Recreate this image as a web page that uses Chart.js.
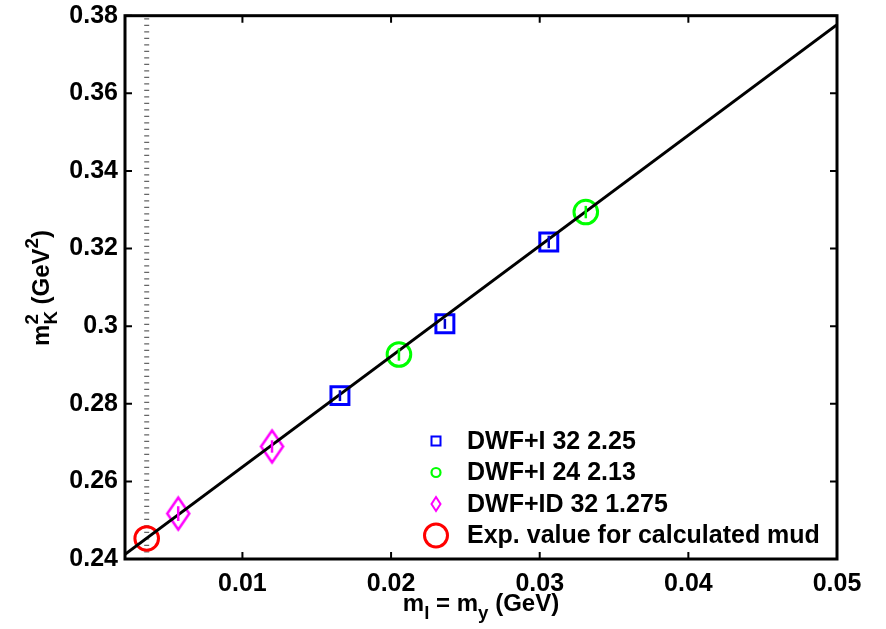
<!DOCTYPE html>
<html><head><meta charset="utf-8">
<script src="https://cdn.jsdelivr.net/npm/chart.js@4/dist/chart.umd.min.js"></script>
<style>html,body{margin:0;padding:0;background:#fff}#wrap{width:886px;height:629px;position:relative}</style>
</head><body><div id="wrap"><canvas id="c" width="886" height="629"></canvas></div>
<script>
// ---- data ----
const xTicks = [0.01, 0.02, 0.03, 0.04, 0.05];
const yTicks = [0.24, 0.26, 0.28, 0.30, 0.32, 0.34, 0.36, 0.38];
const xRange = [0.0021, 0.05];
const seriesLabels = ['DWF+I 32 2.25', 'DWF+I 24 2.13', 'DWF+ID 32 1.275', 'Exp. value for calculated mud'];
const blueX = [0.01656, 0.02362, 0.03061];
const blueY = [0.2821, 0.3006, 0.3217];
const blueErr = [0.0014, 0.0013, 0.0016];
const greenX = [0.02053, 0.03310];
const greenY = [0.2927, 0.3294];
const greenErr = [0.0016, 0.0016];
const magX = [0.00568, 0.01199];
const magY = [0.2517, 0.2690];
const magErr = [0.0019, 0.0016];
const expX = [0.00356];
const expY = [0.2453];
const fitX = [0.0021, 0.05];
const fitY = [0.2412, 0.3777];

const FONT = "'Liberation Sans', Arial, Helvetica, sans-serif";
Chart.defaults.font.family = FONT;
Chart.defaults.color = '#000';

function pts(xs, ys) { return xs.map((x, i) => ({x: x, y: ys[i]})); }

function makeDiamond(hw, hh, lw, color) {
  const c = document.createElement('canvas');
  const W = Math.ceil(2 * hw + lw + 2), H = Math.ceil(2 * hh + lw + 2);
  c.width = W; c.height = H;
  const g = c.getContext('2d');
  g.strokeStyle = color; g.lineWidth = lw; g.lineJoin = 'miter';
  g.beginPath();
  g.moveTo(W / 2, H / 2 - hh); g.lineTo(W / 2 + hw, H / 2);
  g.lineTo(W / 2, H / 2 + hh); g.lineTo(W / 2 - hw, H / 2);
  g.closePath(); g.stroke();
  return c;
}
const diamondImg = makeDiamond(11, 16, 2.5, '#ff00ff');

const errorBars = {
  id: 'errorBars',
  afterDatasetsDraw(chart) {
    const ctx = chart.ctx, xs = chart.scales.x, ys = chart.scales.y;
    chart.data.datasets.forEach(ds => {
      if (!ds.errors) return;
      ctx.save();
      ctx.strokeStyle = ds.errColor || ds.borderColor;
      ctx.lineWidth = 2.5;
      ds.data.forEach((p, i) => {
        const px = xs.getPixelForValue(p.x);
        ctx.beginPath();
        ctx.moveTo(px, ys.getPixelForValue(p.y - ds.errors[i]));
        ctx.lineTo(px, ys.getPixelForValue(p.y + ds.errors[i]));
        ctx.stroke();
      });
      ctx.restore();
    });
  }
};

const frame = {
  id: 'frame',
  afterDraw(chart) {
    const ctx = chart.ctx, a = chart.chartArea, xs = chart.scales.x, ys = chart.scales.y;
    ctx.save();
    ctx.strokeStyle = '#000';
    ctx.lineWidth = 2;
    const TL = 7;
    xTicks.forEach(v => {
      const px = xs.getPixelForValue(v);
      ctx.beginPath();
      ctx.moveTo(px, a.bottom); ctx.lineTo(px, a.bottom - TL);
      ctx.moveTo(px, a.top); ctx.lineTo(px, a.top + TL);
      ctx.stroke();
    });
    yTicks.forEach(v => {
      const py = ys.getPixelForValue(v);
      ctx.beginPath();
      ctx.moveTo(a.left, py); ctx.lineTo(a.left + TL, py);
      ctx.moveTo(a.right, py); ctx.lineTo(a.right - TL, py);
      ctx.stroke();
    });
    ctx.lineWidth = 3;
    ctx.strokeRect(a.left, a.top, a.right - a.left, a.bottom - a.top);
    ctx.restore();
  }
};

function drawRich(ctx, parts, size) {
  let w = 0;
  parts.forEach(p => {
    const s = p.small ? size * 0.78 : size;
    ctx.font = 'bold ' + s + 'px ' + FONT;
    p.w = ctx.measureText(p.t).width;
  });
  let i = 0; const segs = [];
  while (i < parts.length) {
    const p = parts[i];
    if (p.stack) { const q = parts[i + 1]; segs.push({a: p, b: q, w: Math.max(p.w, q.w)}); i += 2; }
    else { segs.push({a: p, w: p.w}); i++; }
  }
  segs.forEach(s => w += s.w);
  return {segs: segs, w: w};
}
function renderRich(ctx, rich, x0, y0, size) {
  let x = x0;
  const put = (p) => {
    const s = p.small ? size * 0.78 : size;
    ctx.font = 'bold ' + s + 'px ' + FONT;
    let dy = 0;
    if (p.sub) dy = size * 0.33;
    if (p.sup) dy = -size * 0.45;
    ctx.fillText(p.t, x, y0 + dy);
  };
  rich.segs.forEach(s => { put(s.a); if (s.b) put(s.b); x += s.w; });
}

const titles = {
  id: 'titles',
  afterDraw(chart) {
    const ctx = chart.ctx, a = chart.chartArea;
    ctx.save();
    ctx.fillStyle = '#000';
    ctx.textBaseline = 'alphabetic';
    ctx.textAlign = 'left';
    const size = 24;
    const xr = drawRich(ctx, [
      {t: 'm'}, {t: 'l', sub: true, small: true}, {t: ' = m'}, {t: 'y', sub: true, small: true}, {t: ' (GeV)'}
    ], size);
    renderRich(ctx, xr, (a.left + a.right) / 2 - xr.w / 2, 611, size);
    const yr = drawRich(ctx, [
      {t: 'm'}, {t: '2', sup: true, small: true, stack: true}, {t: 'K', sub: true, small: true}, {t: ' (GeV'}, {t: '2', sup: true, small: true}, {t: ')'}
    ], size);
    ctx.translate(49, 288);
    ctx.rotate(-Math.PI / 2);
    renderRich(ctx, yr, -yr.w / 2, 0, size);
    ctx.restore();
  }
};

const legendBox = {
  id: 'legendBox',
  afterDraw(chart) {
    const ctx = chart.ctx;
    const rows = [441, 472.5, 504, 535.5];
    const mx = 436, tx = 467;
    ctx.save();
    ctx.lineWidth = 2; ctx.strokeStyle = '#0000ff';
    ctx.strokeRect(mx - 4.5, rows[0] - 4.5, 9, 9);
    ctx.strokeStyle = '#00ff00'; ctx.lineWidth = 2.2;
    ctx.beginPath(); ctx.arc(mx, rows[1], 4.5, 0, Math.PI * 2); ctx.stroke();
    ctx.strokeStyle = '#ff00ff'; ctx.lineWidth = 2;
    ctx.beginPath(); ctx.moveTo(mx, rows[2] - 7); ctx.lineTo(mx + 4.5, rows[2]); ctx.lineTo(mx, rows[2] + 7); ctx.lineTo(mx - 4.5, rows[2]); ctx.closePath(); ctx.stroke();
    ctx.strokeStyle = '#ff0000'; ctx.lineWidth = 3;
    ctx.beginPath(); ctx.arc(mx, rows[3], 11.5, 0, Math.PI * 2); ctx.stroke();
    ctx.fillStyle = '#000';
    ctx.font = 'bold 25px ' + FONT;
    ctx.textBaseline = 'middle'; ctx.textAlign = 'left';
    seriesLabels.forEach((l, i) => ctx.fillText(l, tx, rows[i] + 1));
    ctx.restore();
  }
};

const tickFont = {family: FONT, weight: 'bold', size: 25, lineHeight: 1};

new Chart(document.getElementById('c'), {
  type: 'scatter',
  data: {
    datasets: [
      {label: 'fit', data: pts(fitX, fitY), showLine: true, borderColor: '#000', borderWidth: 3, pointRadius: 0, order: 0},
      {label: seriesLabels[0], data: pts(blueX, blueY), errors: blueErr, errColor: '#0000cc', pointStyle: 'rect', pointRadius: 12.7, borderColor: '#0000ff', backgroundColor: 'rgba(0,0,0,0)', borderWidth: 3, order: 1},
      {label: seriesLabels[1], data: pts(greenX, greenY), errors: greenErr, pointStyle: 'circle', pointRadius: 11.8, borderColor: '#00ff00', backgroundColor: 'rgba(0,0,0,0)', borderWidth: 3, order: 1},
      {label: seriesLabels[2], data: pts(magX, magY), errors: magErr, pointStyle: diamondImg, pointRadius: 12, borderColor: '#ff00ff', backgroundColor: 'rgba(0,0,0,0)', order: 1},
      {label: seriesLabels[3], data: pts(expX, expY), pointStyle: 'circle', pointRadius: 11.8, borderColor: '#ff0000', backgroundColor: 'rgba(0,0,0,0)', borderWidth: 3, order: 1},
      {label: 'mud', data: [{x: expX[0], y: yTicks[0]}, {x: expX[0], y: yTicks[yTicks.length - 1]}], showLine: true, borderColor: '#666', borderWidth: 5, borderDash: [1.2, 5.3], pointRadius: 0, order: 2}
    ]
  },
  options: {
    responsive: false,
    animation: false,
    events: [],
    layout: {padding: {left: 0, right: 49, top: 14, bottom: 0}},
    plugins: {legend: {display: false}, tooltip: {enabled: false}, title: {display: false}},
    scales: {
      x: {
        type: 'linear', min: xRange[0], max: xRange[1],
        afterBuildTicks: s => { s.ticks = xTicks.map(v => ({value: v})); },
        afterFit: s => { s.height = 70; s.paddingLeft = 0; s.paddingRight = 0; },
        grid: {display: false, drawTicks: false}, border: {display: false},
        ticks: {font: tickFont, color: '#000', padding: 13, maxRotation: 0, autoSkip: false, callback: v => String(v)}
      },
      y: {
        type: 'linear', min: yTicks[0], max: yTicks[yTicks.length - 1],
        afterBuildTicks: s => { s.ticks = yTicks.map(v => ({value: v})); },
        afterFit: s => { s.width = 125; s.paddingTop = 0; s.paddingBottom = 0; },
        grid: {display: false, drawTicks: false}, border: {display: false},
        ticks: {font: tickFont, color: '#000', padding: 7, autoSkip: false, callback: v => String(+v.toFixed(2))}
      }
    }
  },
  plugins: [errorBars, frame, titles, legendBox]
});
</script>
</body></html>
